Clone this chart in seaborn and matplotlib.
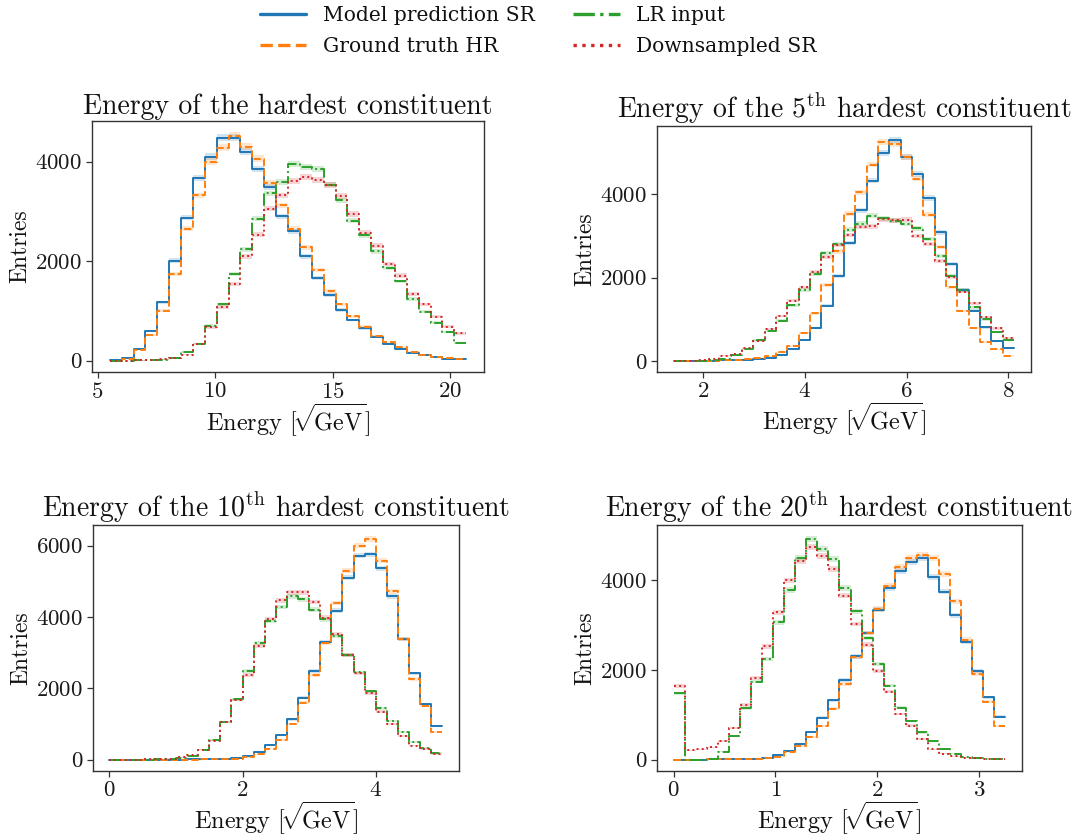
import numpy as np
import pandas as pd
import matplotlib
matplotlib.use("Agg")
import matplotlib.pyplot as plt
import seaborn as sns
from matplotlib.lines import Line2D
from matplotlib.ticker import FixedLocator

# ---------------- data ----------------
series_labels = ["Model prediction SR", "Ground truth HR", "LR input", "Downsampled SR"]
series_colors = ["#1f77b4", "#ff7f0e", "#2ca02c", "#d62728"]
series_styles = ["-", "--", "-.", ":"]

titles = [
    "Energy of the hardest constituent",
    r"Energy of the 5$^{\mathrm{th}}$ hardest constituent",
    r"Energy of the 10$^{\mathrm{th}}$ hardest constituent",
    r"Energy of the 20$^{\mathrm{th}}$ hardest constituent",
]
bin_ranges = [(5.52, 20.68), (1.43, 8.11), (0.0, 5.0), (0.0, 3.26)]
n_bins = 30
xticks = [[5, 10, 15, 20], [2, 4, 6, 8], [0, 2, 4], [0, 1, 2, 3]]
yticks = [[0, 2000, 4000], [0, 2000, 4000], [0, 2000, 4000, 6000], [0, 2000, 4000]]

p1_sr = [10, 60, 235, 590, 1170, 2010, 2870, 3680, 4100, 4485, 4485, 4200, 3845, 3490, 2900,
         2600, 2095, 1655, 1320, 1017, 815, 646, 478, 343, 242, 162, 108, 74, 40, 27]
p1_hr = [0, 40, 220, 510, 1000, 1745, 2650, 3320, 4000, 4280, 4520, 4300, 4060, 3575, 3120,
         2645, 2275, 1820, 1400, 1130, 895, 680, 500, 364, 263, 175, 121, 81, 47, 27]
p1_lr = [0, 0, 2, 5, 20, 60, 170, 343, 700, 1130, 1740, 2240, 2855, 3360, 3590,
         3945, 3890, 3845, 3540, 3220, 2815, 2520, 2195, 1860, 1590, 1240, 983, 760, 572, 350]
p1_ds = [0, 0, 2, 5, 25, 60, 121, 337, 667, 1077, 1535, 2094, 2530, 3057, 3320,
         3610, 3690, 3636, 3530, 3306, 2950, 2566, 2310, 1940, 1710, 1340, 1131, 882, 680, 545]

p2_sr = [0, 0, 0, 2, 8, 16, 30, 50, 72, 130, 273, 500, 790, 1325, 2040,
         2830, 3615, 4330, 5000, 5300, 4890, 4490, 3910, 3085, 2330, 1700, 1205, 803, 482, 305]
p2_hr = [0, 0, 0, 2, 8, 16, 40, 64, 112, 200, 353, 660, 1140, 1823, 2627,
         3534, 4050, 4715, 5250, 5220, 4900, 4380, 3510, 2730, 1767, 1197, 795, 458, 273, 120]
p2_lr = [0, 0, 5, 16, 48, 150, 273, 500, 723, 964, 1340, 1703, 2088, 2586, 2803,
         3149, 3293, 3486, 3420, 3365, 3285, 3180, 2930, 2522, 2048, 1703, 1285, 996, 690, 498]
p2_ds = [0, 0, 16, 48, 120, 160, 297, 482, 763, 1076, 1446, 1767, 2145, 2490, 2787,
         3028, 3213, 3229, 3405, 3373, 3390, 3004, 2811, 2402, 2008, 1663, 1381, 1044, 779, 538]

p3_sr = [0, 0, 0, 0, 0, 0, 0, 2, 5, 10, 20, 45, 100, 205, 400,
         690, 1128, 1733, 2479, 3290, 4175, 5098, 5722, 5760, 5368, 4576, 3392, 2414, 1556, 950]
p3_hr = [0, 0, 0, 0, 0, 0, 0, 1, 3, 6, 10, 28, 65, 150, 300,
         550, 997, 1594, 2367, 3280, 4390, 5303, 6002, 6188, 5582, 4725, 3374, 2255, 1500, 783]
p3_lr = [0, 0, 0, 0, 8, 20, 40, 110, 280, 550, 1044, 1696, 2488, 3280, 3886,
         4278, 4585, 4492, 4203, 3933, 3467, 2945, 2442, 1920, 1435, 1081, 764, 485, 336, 196]
p3_ds = [0, 0, 0, 2, 10, 25, 60, 130, 280, 530, 1060, 1670, 2367, 3178, 3950,
         4465, 4697, 4697, 4418, 3980, 3532, 2945, 2414, 1855, 1342, 997, 662, 390, 298, 150]

p4_sr = [0, 0, 0, 2, 5, 8, 12, 20, 40, 100, 190, 343, 620, 933, 1321,
         1776, 2299, 2821, 3343, 3828, 4201, 4403, 4485, 4075, 3746, 3216, 2619, 1978, 1388, 955]
p4_hr = [0, 0, 0, 2, 4, 6, 10, 15, 30, 60, 172, 300, 507, 746, 1127,
         1687, 2284, 2821, 3358, 3880, 4291, 4485, 4560, 4485, 4142, 3530, 2672, 1910, 1291, 746]
p4_lr = [1478, 0, 0, 20, 172, 522, 1142, 1739, 2239, 3060, 3776, 4485, 4910, 4687, 4478,
         3828, 3306, 2709, 2134, 1649, 1157, 858, 604, 410, 224, 134, 60, 30, 15, 5]
p4_ds = [1642, 209, 224, 269, 418, 709, 1216, 1813, 2522, 3284, 3993, 4425, 4739, 4537, 4254,
         3657, 3022, 2560, 1985, 1515, 1015, 754, 455, 224, 134, 75, 45, 30, 15, 7]

panels = [
    [p1_sr, p1_hr, p1_lr, p1_ds],
    [p2_sr, p2_hr, p2_lr, p2_ds],
    [p3_sr, p3_hr, p3_lr, p3_ds],
    [p4_sr, p4_hr, p4_lr, p4_ds],
]

# ---------------- style ----------------
sns.set_style("ticks")
plt.rcParams.update({
    "font.family": ["cmr10"],
    "mathtext.fontset": "cm",
    "axes.formatter.use_mathtext": True,
    "axes.unicode_minus": False,
    "axes.edgecolor": "#333333",
    "axes.linewidth": 1.0,
    "xtick.color": "#333333",
    "ytick.color": "#333333",
    "xtick.labelcolor": "#1a1a1a",
    "ytick.labelcolor": "#1a1a1a",
    "text.color": "#111111",
    "axes.labelcolor": "#111111",
})

fig = plt.figure(figsize=(10.76, 8.38), dpi=100)
positions = [
    [0.0855, 0.5561, 0.3643, 0.2995],
    [0.6106, 0.5561, 0.3476, 0.2935],
    [0.0862, 0.0803, 0.3404, 0.2932],
    [0.6106, 0.0803, 0.3392, 0.2932],
]

for i, (pos, data) in enumerate(zip(positions, panels)):
    ax = fig.add_axes(pos)
    lo, hi = bin_ranges[i]
    edges = np.linspace(lo, hi, n_bins + 1)
    centers = 0.5 * (edges[:-1] + edges[1:])
    top = 0
    for counts, col, ls in zip(data, series_colors, series_styles):
        counts = np.asarray(counts, dtype=float)
        err = np.sqrt(counts)
        ax.fill_between(edges, np.append(counts - err, counts[-1] - err[-1]),
                        np.append(counts + err, counts[-1] + err[-1]),
                        step="post", color=col, alpha=0.2, linewidth=0)
        df = pd.DataFrame({"energy": centers, "w": counts})
        sns.histplot(data=df, x="energy", weights="w", bins=list(edges), element="step",
                     fill=False, color=col, linestyle=ls, linewidth=1.4, ax=ax)
        top = max(top, (counts + err).max())
    ax.set_xlim(lo - 0.05 * (hi - lo), hi + 0.05 * (hi - lo))
    ax.set_ylim(-0.05 * top, 1.05 * top)
    ax.xaxis.set_major_locator(FixedLocator(xticks[i]))
    ax.yaxis.set_major_locator(FixedLocator(yticks[i]))
    ax.tick_params(labelsize=16.5, length=4, width=0.9, direction="out", pad=3)
    ax.set_title(titles[i], fontsize=20, pad=5)
    ax.set_xlabel(r"Energy [$\!\sqrt{\!\mathrm{GeV}}$]", fontsize=17.5, labelpad=0)
    ax.set_ylabel("Entries", fontsize=17, labelpad=3)
    for sp in ax.spines.values():
        sp.set_visible(True)

handles = [Line2D([0], [0], color=c, linestyle=s, linewidth=2.4)
           for c, s in zip(series_colors, series_styles)]
fig.legend(handles, series_labels, loc="upper center", bbox_to_anchor=(0.5, 1.005), ncol=2,
           frameon=False, prop={"family": "DejaVu Serif", "size": 14.6},
           handlelength=2.3, handletextpad=0.8, columnspacing=1.9, labelspacing=0.58,
           borderaxespad=0.1)

fig.savefig("out.png", dpi=100)
